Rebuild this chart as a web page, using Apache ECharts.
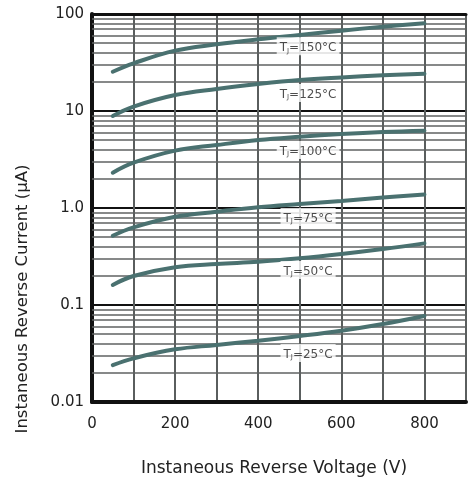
<!DOCTYPE html>
<html>
<head>
<meta charset="utf-8">
<script src="https://cdn.jsdelivr.net/npm/echarts@6/dist/echarts.min.js"></script>
<style>html,body{margin:0;padding:0;background:#fff}#c{width:469px;height:482px}</style>
</head>
<body>
<div id="c"></div>
<script>
// Data
var voltages = [50, 100, 200, 300, 400, 500, 600, 700, 800];
var tj150 = [25.4, 31.0, 41.9, 48.7, 54.9, 60.8, 67.3, 74.0, 80.2];
var tj125 = [8.88, 11.1, 14.6, 16.9, 19.0, 20.9, 22.2, 23.3, 24.2];
var tj100 = [2.31, 2.93, 3.90, 4.46, 5.02, 5.43, 5.79, 6.08, 6.27];
var tj75  = [0.518, 0.632, 0.813, 0.916, 1.02, 1.10, 1.18, 1.28, 1.38];
var tj50  = [0.161, 0.199, 0.245, 0.265, 0.279, 0.303, 0.336, 0.378, 0.432];
var tj25  = [0.0240, 0.0282, 0.0349, 0.0387, 0.0429, 0.0479, 0.0543, 0.0637, 0.0771];
var seriesNames = ['150', '125', '100', '75', '50', '25'];
var labelVoltage = 520;
var labelCurrents = [46.5, 15.3, 3.96, 0.81, 0.23, 0.032];
var yTickLabels = {'0.01': '0.01', '0.1': '0.1', '1': '1.0', '10': '10', '100': '100'};
var xTickLabels = [0, 200, 400, 600, 800];
var minorMultipliers = [2, 3, 4, 5, 6, 7, 8, 9];
var decades = [0.01, 0.1, 1, 10];

var allSeries = [tj150, tj125, tj100, tj75, tj50, tj25];
var curveColor = '#4a7170';
var fontFam = 'DejaVu Sans, sans-serif';

var minorLines = [];
decades.forEach(function (d) {
  minorMultipliers.forEach(function (m) {
    minorLines.push({ yAxis: +(d * m).toPrecision(3) });
  });
});

var series = [];
series.push({
  type: 'line', data: [], silent: true,
  markLine: {
    silent: true, symbol: 'none', label: { show: false },
    lineStyle: { color: '#5f6262', width: 1.5, type: 'solid' },
    data: minorLines, animation: false
  }
});
allSeries.forEach(function (arr, i) {
  series.push({
    type: 'line', name: seriesNames[i], showSymbol: false, smooth: 0.4,
    data: voltages.map(function (v, k) { return [v, arr[k]]; }),
    lineStyle: { color: curveColor, width: 4, cap: 'round' },
    z: 5
  });
});
series.push({
  type: 'scatter', symbolSize: 0, z: 10,
  data: labelCurrents.map(function (c, i) { return { value: [labelVoltage, c], name: seriesNames[i] }; }),
  label: {
    show: true, position: 'inside',
    backgroundColor: '#fff', padding: [2, 3, 1, 3],
    formatter: function (p) { return '{t|T}{s|J}{t|=' + p.name + '°C}'; },
    rich: {
      t: { fontSize: 12, color: '#222', fontFamily: fontFam, verticalAlign: 'bottom', lineHeight: 15 },
      s: { fontSize: 7, color: '#222', fontFamily: fontFam, verticalAlign: 'bottom', lineHeight: 14 }
    }
  }
});

var chart = echarts.init(document.getElementById('c'));
chart.setOption({
  animation: false,
  grid: { left: 92, right: 0, top: 14, bottom: 80, containLabel: false },
  xAxis: [{
    type: 'value', min: 0, max: 900, interval: 100,
    axisLine: { show: true, lineStyle: { color: '#111', width: 4 } },
    axisTick: { show: false },
    axisLabel: {
      color: '#222', fontSize: 15, fontFamily: fontFam, margin: 15,
      formatter: function (v) { return xTickLabels.indexOf(v) >= 0 ? String(v) : ''; }
    },
    splitLine: { show: true, lineStyle: { color: '#5a5e5e', width: 2 } },
    name: 'Instaneous Reverse Voltage (V)', nameLocation: 'middle', nameGap: 58,
    nameTextStyle: { color: '#222', fontSize: 17, fontFamily: fontFam, padding: [0, 10, 0, 0] }
  }, {
    type: 'value', min: 0, max: 900, position: 'top',
    axisLine: { show: true, lineStyle: { color: '#111', width: 3 } },
    axisTick: { show: false }, axisLabel: { show: false }, splitLine: { show: false }
  }],
  yAxis: {
    type: 'log', logBase: 10, min: 0.01, max: 100,
    axisLine: { show: true, lineStyle: { color: '#111', width: 4 } },
    axisTick: { show: false },
    axisLabel: {
      color: '#222', fontSize: 15, fontFamily: fontFam, margin: 8,
      formatter: function (v) { return yTickLabels[String(+v.toPrecision(3))] || ''; }
    },
    splitLine: { show: true, lineStyle: { color: '#111', width: 2 } }
  },
  graphic: [{
    type: 'text', x: 23, y: 299, rotation: Math.PI / 2,
    style: { text: 'Instaneous Reverse Current (µA)', fill: '#222', fontSize: 16.5, fontFamily: fontFam, align: 'center', verticalAlign: 'middle' }
  }],
  series: series
});
</script>
</body>
</html>
